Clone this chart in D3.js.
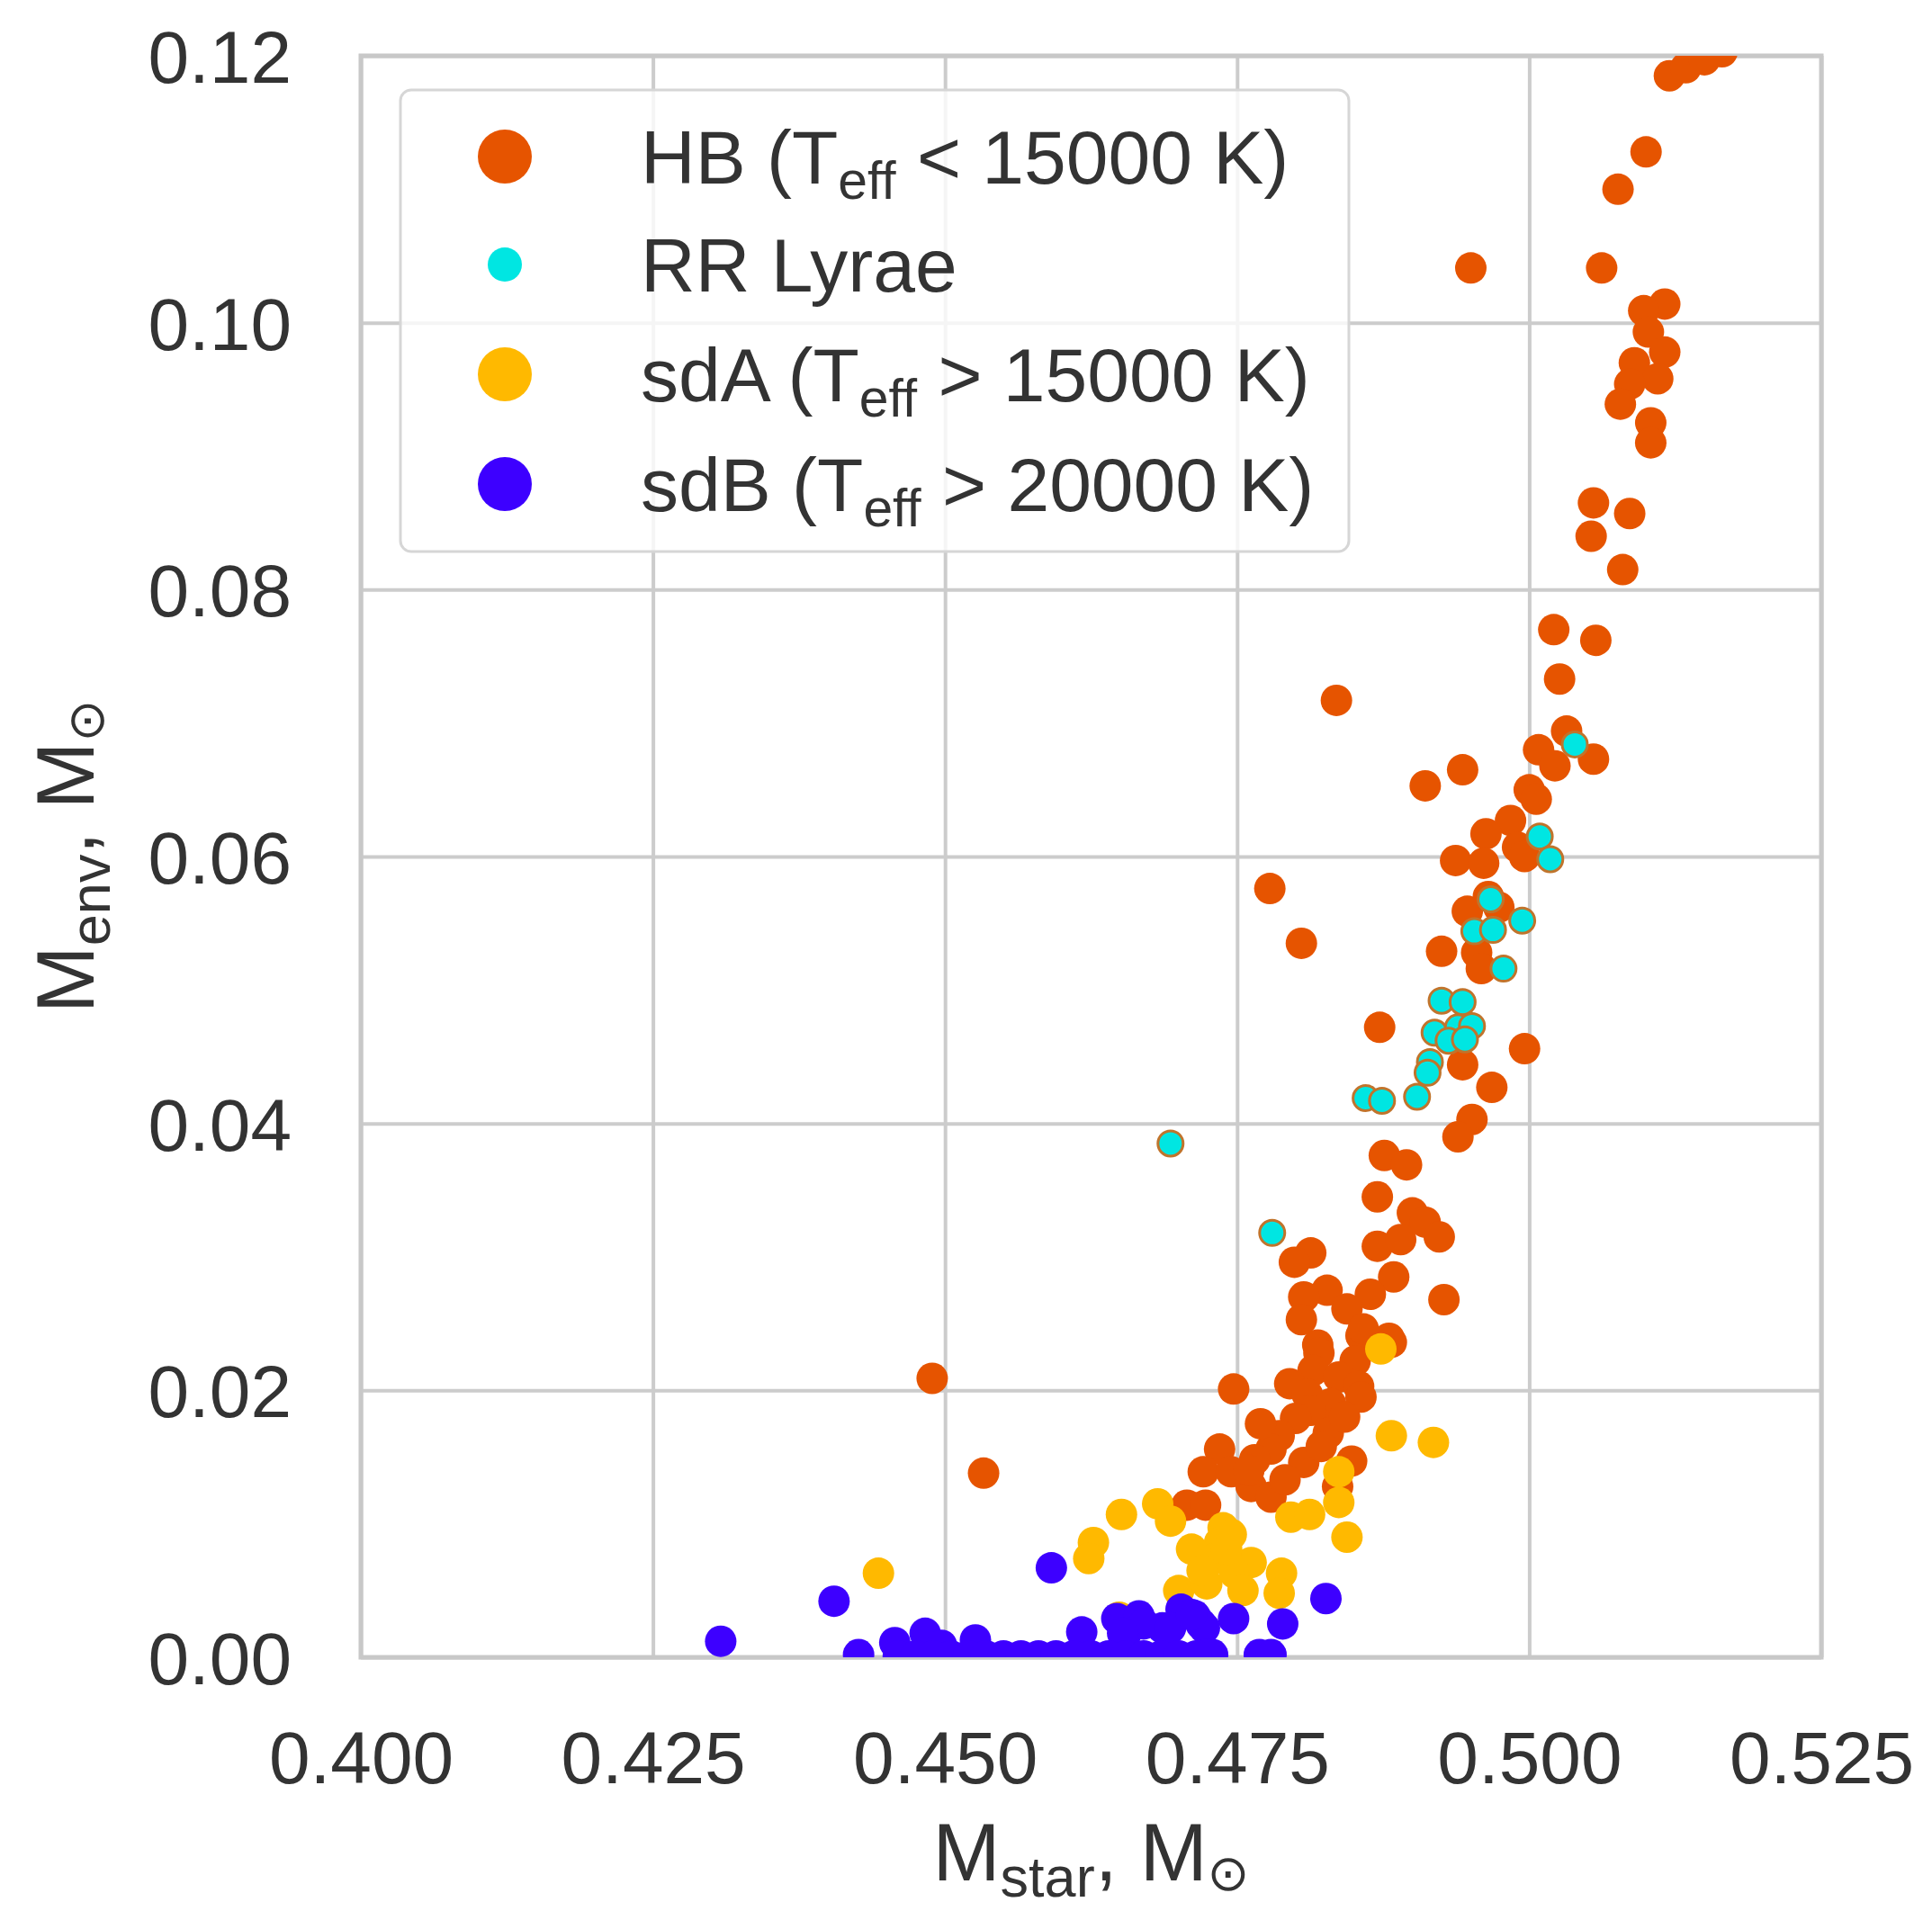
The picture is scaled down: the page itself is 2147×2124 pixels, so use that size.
<!DOCTYPE html>
<html>
<head>
<meta charset="utf-8">
<script src="https://cdn.jsdelivr.net/npm/d3@7"></script>
<style>
  body { margin: 0; background: #ffffff; }
  text { font-family: "Liberation Sans", Arial, sans-serif; fill: #333333; }
</style>
</head>
<body>
<svg id="svg-main" width="2147" height="2124"></svg>
<script>
// [M_star, M_env]
var hbPoints = [
  [0.5120,0.1185],[0.5134,0.1191],[0.5150,0.1197],[0.5165,0.1203],
  [0.5100,0.1128],[0.5076,0.1100],[0.4950,0.1041],[0.5062,0.1041],
  [0.5116,0.1014],[0.5098,0.1009],[0.5102,0.0993],[0.5116,0.0978],[0.5090,0.0970],
  [0.5110,0.0958],[0.5086,0.0954],[0.5078,0.0939],[0.5104,0.0925],[0.5104,0.0910],
  [0.5055,0.0865],[0.5086,0.0857],[0.5053,0.0840],[0.5080,0.0815],
  [0.5021,0.0770],[0.5057,0.0762],[0.5026,0.0733],[0.4835,0.0717],
  [0.5032,0.0694],[0.5008,0.0680],[0.5022,0.0668],[0.5055,0.0673],[0.4943,0.0665],
  [0.4911,0.0653],[0.5000,0.0650],[0.5006,0.0643],
  [0.4984,0.0627],[0.4963,0.0617],[0.4990,0.0607],[0.4996,0.0600],[0.4937,0.0597],[0.4961,0.0595],
  [0.4778,0.0576],[0.4965,0.0570],[0.4947,0.0559],[0.4974,0.0562],[0.4805,0.0535],
  [0.4925,0.0529],[0.4955,0.0528],[0.4959,0.0516],
  [0.4872,0.0472],[0.4943,0.0444],[0.4996,0.0456],[0.4968,0.0427],[0.4951,0.0403],[0.4939,0.0390],
  [0.4876,0.0376],[0.4895,0.0369],[0.4870,0.0345],[0.4900,0.0333],[0.4911,0.0326],[0.4923,0.0315],
  [0.4813,0.0303],[0.4799,0.0296],[0.4870,0.0308],[0.4890,0.0313],[0.4884,0.0285],[0.4827,0.0275],
  [0.4807,0.0270],[0.4864,0.0272],[0.4927,0.0268],[0.4844,0.0261],[0.4805,0.0253],
  [0.4880,0.0239],[0.4819,0.0234],[0.4856,0.0241],
  [0.4858,0.0246],[0.4882,0.0236],[0.4820,0.0228],[0.4851,0.0222],[0.4815,0.0215],
  [0.4747,0.0201],[0.4795,0.0205],[0.4810,0.0197],[0.4837,0.0210],[0.4854,0.0203],[0.4830,0.0190],
  [0.4813,0.0185],[0.4856,0.0195],[0.4800,0.0179],[0.4828,0.0168],[0.4786,0.0166],[0.4779,0.0156],
  [0.4735,0.0156],[0.4765,0.0148],[0.4721,0.0139],[0.4745,0.0139],[0.4807,0.0146],[0.4848,0.0147],
  [0.4762,0.0128],[0.4779,0.0120],[0.4791,0.0133],[0.4836,0.0128],[0.4707,0.0114],[0.4723,0.0114],
  [0.4770,0.0175],[0.4822,0.0158],[0.4842,0.0180],[0.4760,0.0140],
  [0.4489,0.0209],[0.4533,0.0138]
];

var rrPoints = [
  [0.5039,0.0684],[0.5009,0.0615],[0.5018,0.0598],[0.4967,0.0568],[0.4994,0.0552],
  [0.4953,0.0544],[0.4969,0.0545],[0.4978,0.0516],[0.4925,0.0492],[0.4943,0.0491],
  [0.4919,0.0468],[0.4939,0.0472],[0.4951,0.0473],[0.4931,0.0462],[0.4945,0.0463],
  [0.4915,0.0446],[0.4913,0.0438],[0.4860,0.0419],[0.4874,0.0417],[0.4904,0.0420],
  [0.4693,0.0385],[0.4780,0.0318]
];

var sdaPoints = [
  [0.4873,0.0231],[0.4882,0.0166],[0.4918,0.0161],[0.4837,0.0139],[0.4837,0.0116],
  [0.4844,0.0090],[0.4796,0.0105],[0.4812,0.0107],
  [0.4682,0.0115],[0.4651,0.0107],[0.4693,0.0102],[0.4627,0.0086],[0.4623,0.0074],[0.4443,0.0063],
  [0.4738,0.0097],[0.4735,0.0086],[0.4711,0.0081],[0.4731,0.0074],[0.4762,0.0071],[0.4748,0.0063],
  [0.4755,0.0050],[0.4700,0.0050],[0.4724,0.0055],[0.4788,0.0063],[0.4786,0.0048],[0.4649,0.0030],
  [0.4741,0.0081],[0.4745,0.0092],[0.4720,0.0065]
];

var sdbPoints = [
  [0.4308,0.0012],[0.4405,0.0042],[0.4426,0.0002],[0.4457,0.0011],[0.4483,0.0018],[0.4497,0.0009],
  [0.4526,0.0013],[0.4591,0.0067],[0.4617,0.0019],[0.4647,0.0029],[0.4666,0.0031],[0.4702,0.0036],
  [0.4714,0.0031],[0.4722,0.0022],[0.4686,0.0022],[0.4654,0.0016],[0.4670,0.0025],[0.4652,0.0018],
  [0.4693,0.0022],[0.4719,0.0025],[0.4711,0.0032],[0.4747,0.0029],[0.4789,0.0025],[0.4826,0.0044],
  [0.4729,0.0002],[0.4769,0.0002],[0.4779,0.0002],[0.4724,0.0002],
  [0.4460,0.0001],[0.4475,0.0001],[0.4490,0.0001],[0.4505,0.0001],[0.4520,0.0001],[0.4535,0.0001],
  [0.4550,0.0001],[0.4565,0.0001],[0.4580,0.0001],[0.4595,0.0001],[0.4610,0.0001],[0.4625,0.0001],
  [0.4640,0.0001],[0.4655,0.0001],[0.4670,0.0001],[0.4685,0.0001],[0.4700,0.0001],[0.4715,0.0001]
];

var xTicks = [0.400, 0.425, 0.450, 0.475, 0.500, 0.525];
var yTicks = [0.00, 0.02, 0.04, 0.06, 0.08, 0.10, 0.12];

// legend labels: [text, subscript?]
var legendLabels = [
  [["HB (T", false], ["eff", true], [" < 15000 K)", false]],
  [["RR Lyrae", false]],
  [["sdA (T", false], ["eff", true], [" > 15000 K)", false]],
  [["sdB (T", false], ["eff", true], [" > 20000 K)", false]]
];

var colors = {hb: "#e65400", rr: "#00e6e2", sda: "#ffb900", sdb: "#3d00ff"};
var grey = "#cccccc";

var plot = {left: 401, right: 2024, top: 62, bottom: 1842};

var x = d3.scaleLinear().domain([0.400, 0.525]).range([plot.left, plot.right]);
var y = d3.scaleLinear().domain([0.00, 0.12]).range([plot.bottom, plot.top]);

var svg = d3.select("#svg-main");

svg.append("defs").append("clipPath")
  .attr("id", "plot-clip")
  .append("rect")
  .attr("x", plot.left)
  .attr("y", plot.top)
  .attr("width", plot.right - plot.left)
  .attr("height", plot.bottom - plot.top);

// grid
var xAxis = d3.axisBottom(x).tickValues(xTicks).tickSize(-(plot.bottom - plot.top)).tickFormat(d3.format(".3f"));
var yAxis = d3.axisLeft(y).tickValues(yTicks).tickSize(-(plot.right - plot.left)).tickFormat(d3.format(".2f"));

var gx = svg.append("g").attr("transform", "translate(0," + plot.bottom + ")").call(xAxis);
var gy = svg.append("g").attr("transform", "translate(" + plot.left + ",0)").call(yAxis);

[gx, gy].forEach(function(g) {
  g.select(".domain").remove();
  g.selectAll(".tick line").attr("stroke", grey).attr("stroke-width", 4);
  g.selectAll(".tick text")
    .attr("font-size", 82)
    .attr("fill", "#333333")
    .attr("font-family", "Liberation Sans, Arial, sans-serif");
});
gx.selectAll(".tick text").attr("y", 0).attr("dy", 0).attr("transform", "translate(0,140)");
gy.selectAll(".tick text").attr("x", -77).attr("dy", "0.36em");

// frame
svg.append("rect")
  .attr("x", plot.left)
  .attr("y", plot.top)
  .attr("width", plot.right - plot.left)
  .attr("height", plot.bottom - plot.top)
  .attr("fill", "none")
  .attr("stroke", "#c8c8c8")
  .attr("stroke-width", 5);

// points
var dots = svg.append("g").attr("clip-path", "url(#plot-clip)");

function drawSeries(data, fill, r, stroke) {
  dots.append("g")
    .selectAll("circle")
    .data(data)
    .enter()
    .append("circle")
    .attr("cx", function(d) { return x(d[0]); })
    .attr("cy", function(d) { return y(d[1]); })
    .attr("r", r)
    .attr("fill", fill)
    .attr("stroke", stroke || "none")
    .attr("stroke-width", stroke ? 3 : 0);
}

drawSeries(hbPoints, colors.hb, 17.5);
drawSeries(rrPoints, colors.rr, 14, "#c0742c");
drawSeries(sdaPoints, colors.sda, 17.5);
drawSeries(sdbPoints, colors.sdb, 17.5);

// text with mathtext-like subscripts; p = [text, sub, fontFamily, scale, drop]
function richText(el, parts, size) {
  var shift = 0;
  parts.forEach(function(p) {
    var t = el.append("tspan").text(p[0]);
    if (p[1]) {
      var drop = size * (p[4] || 0.2);
      t.attr("font-size", size * (p[3] || 0.7)).attr("dy", drop - shift);
      shift = drop;
    } else {
      t.attr("font-size", size).attr("dy", -shift);
      shift = 0;
    }
    if (p[2]) t.style("font-family", p[2]);
  });
}

// legend
var legend = svg.append("g");
var lx = plot.left + 44, ly = plot.top + 38;
legend.append("rect")
  .attr("x", lx)
  .attr("y", ly)
  .attr("width", 1054)
  .attr("height", 513)
  .attr("rx", 12)
  .attr("fill", "#ffffff")
  .attr("fill-opacity", 0.8)
  .attr("stroke", "#d6d6d6")
  .attr("stroke-width", 3);

var legendColors = [colors.hb, colors.rr, colors.sda, colors.sdb];
var legendSizes = [30, 19, 30, 30];
var rowY = [174, 294, 416, 538];

legendLabels.forEach(function(parts, i) {
  legend.append("circle")
    .attr("cx", 561)
    .attr("cy", rowY[i])
    .attr("r", legendSizes[i])
    .attr("fill", legendColors[i]);
  var t = legend.append("text")
    .attr("x", 712)
    .attr("y", rowY[i] + 30);
  richText(t, parts, 84);
});

// axis titles
var xt = svg.append("text")
  .attr("x", (plot.left + plot.right) / 2)
  .attr("y", 2090)
  .attr("text-anchor", "middle");
richText(xt, [["M", false], ["star", true], [", M", false], ["\u2299", true, "DejaVu Sans", 0.62, 0.12]], 90);

var yt = svg.append("text")
  .attr("transform", "translate(104," + ((plot.top + plot.bottom) / 2) + ") rotate(-90)")
  .attr("text-anchor", "middle");
richText(yt, [["M", false], ["env", true], [", M", false], ["\u2299", true, "DejaVu Sans", 0.62, 0.12]], 90);
</script>
</body>
</html>
